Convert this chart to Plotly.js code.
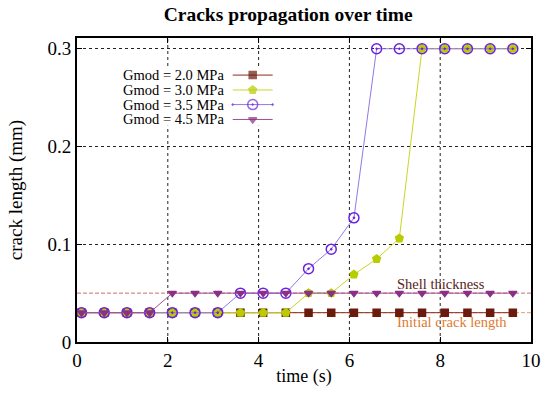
<!DOCTYPE html>
<html>
<head>
<meta charset="utf-8">
<script src="https://cdn.plot.ly/plotly-3.0.1.min.js"></script>
<style>html,body{margin:0;padding:0;background:#fff;}#chart{width:550px;height:393px;}</style>
</head>
<body>
<div id="chart"></div>
<script>
// ---- data ----
var time = [0.1, 0.6, 1.1, 1.6, 2.1, 2.6, 3.1, 3.6, 4.1, 4.6, 5.1, 5.6, 6.1, 6.6, 7.1, 7.6, 8.1, 8.6, 9.1, 9.6];
var gmod20 = [0.03, 0.03, 0.03, 0.03, 0.03, 0.03, 0.03, 0.03, 0.03, 0.03, 0.03, 0.03, 0.03, 0.03, 0.03, 0.03, 0.03, 0.03, 0.03, 0.03];
var gmod30 = [0.03, 0.03, 0.03, 0.03, 0.03, 0.03, 0.03, 0.03, 0.03, 0.03, 0.05, 0.05, 0.069, 0.085, 0.106, 0.3, 0.3, 0.3, 0.3, 0.3];
var gmod35 = [0.03, 0.03, 0.03, 0.03, 0.03, 0.03, 0.03, 0.05, 0.05, 0.05, 0.075, 0.095, 0.127, 0.3, 0.3, 0.3, 0.3, 0.3, 0.3, 0.3];
var gmod45 = [0.03, 0.03, 0.03, 0.03, 0.05, 0.05, 0.05, 0.05, 0.05, 0.05, 0.05, 0.05, 0.05, 0.05, 0.05, 0.05, 0.05, 0.05, 0.05, 0.05];
var seriesNames = ["Gmod = 2.0 MPa", "Gmod = 3.0 MPa", "Gmod = 3.5 MPa", "Gmod = 4.5 MPa"];
var shellThickness = 0.05;
var initialCrack = 0.03;
var refLabels = ["Shell thickness", "Initial crack length"];
var xTicks = [0, 2, 4, 6, 8, 10];
var yTicks = [0, 0.1, 0.2, 0.3];
var yTickText = ["0", "0.1", "0.2", "0.3"];

// ---- styles ----
var styles = [
  {line: '#8b2c1c', marker: '#6b1a0e', symbol: 'square', size: 7},
  {line: '#c8d820', marker: '#b8cc00', symbol: 'pentagon', size: 8},
  {line: '#9478e4', marker: '#6a22e0', symbol: 'circle-open-dot', size: 10},
  {line: '#a04d9a', marker: '#8b2f87', symbol: 'triangle-down', size: 7}
];
var allY = [gmod20, gmod30, gmod35, gmod45];
var FONT = 'Liberation Serif, Times New Roman, serif';

var traces = [];
allY.forEach(function (ys, i) {
  var s = styles[i];
  traces.push({
    x: time, y: ys, type: 'scatter', mode: 'lines+markers', name: seriesNames[i],
    showlegend: false,
    line: {color: s.line, width: 1},
    marker: {symbol: s.symbol, size: s.size, color: s.marker, line: {color: s.marker, width: 1.5}}
  });
});

// legend (gnuplot style: text, then sample) on an overlay axis in [0,1]
var legX0 = 0.343, legX1 = 0.431, legXText = 0.325;
var legY = [0.878, 0.829, 0.781, 0.732];
var annotations = [];
seriesNames.forEach(function (nm, i) {
  var s = styles[i];
  var xm = (legX0 + legX1) / 2;
  traces.push({
    x: [legX0, xm, legX1], y: [legY[i], legY[i], legY[i]], xaxis: 'x2', yaxis: 'y2',
    type: 'scatter', mode: 'lines+markers', showlegend: false, hoverinfo: 'skip',
    line: {color: s.line, width: 1},
    marker: {symbol: s.symbol, size: [0, s.size, 0], color: s.marker, line: {color: s.marker, width: 1.5}}
  });
  annotations.push({
    xref: 'paper', yref: 'paper', x: legXText, y: legY[i], xanchor: 'right', yanchor: 'middle',
    height: 14, borderpad: 0,
    text: nm, showarrow: false, font: {family: FONT, size: 14.5, color: '#000'}
  });
});

annotations.push({
  xref: 'x', yref: 'y', x: 7.0, y: shellThickness, xanchor: 'left', yanchor: 'bottom', yshift: -1,
  text: refLabels[0], showarrow: false, font: {family: FONT, size: 14.5, color: '#5a1c18'}
});
annotations.push({
  xref: 'x', yref: 'y', x: 7.0, y: initialCrack, xanchor: 'left', yanchor: 'top', yshift: 1,
  text: refLabels[1], showarrow: false, font: {family: FONT, size: 14.5, color: '#e07a30'}
});

// vertical grid lines drawn as shapes so the opaque key box can hide them
var shapes = [];
xTicks.slice(1, -1).forEach(function (xv) {
  shapes.push({type: 'line', xref: 'x', x0: xv, x1: xv, yref: 'paper', y0: 0, y1: 1,
    line: {color: '#222', width: 1, dash: '3px,3px'}, layer: 'below'});
});
shapes.push({type: 'rect', xref: 'paper', yref: 'paper', x0: 0.094, x1: 0.442, y0: 0.711, y1: 0.905,
  fillcolor: '#fff', line: {width: 0}, layer: 'below'});
shapes.push({type: 'line', xref: 'paper', x0: 0, x1: 1, yref: 'y', y0: shellThickness, y1: shellThickness,
  line: {color: '#c07070', width: 1, dash: '4px,2px'}, layer: 'below'});
shapes.push({type: 'line', xref: 'paper', x0: 0, x1: 1, yref: 'y', y0: initialCrack, y1: initialCrack,
  line: {color: '#e0a070', width: 1, dash: '4px,2px'}, layer: 'below'});

var axisCommon = {
  showline: true, linecolor: '#000', linewidth: 2, mirror: 'ticks',
  ticks: 'inside', ticklen: 5, tickcolor: '#000', tickwidth: 1,
  gridcolor: '#222', gridwidth: 1, griddash: '3px,3px',
  zeroline: false, tickfont: {family: FONT, size: 19, color: '#000'}
};

var layout = {
  width: 550, height: 393,
  margin: {l: 77, r: 19, t: 38, b: 51},
  paper_bgcolor: '#fff', plot_bgcolor: '#fff',
  title: {text: '<b>Cracks propagation over time</b>', font: {family: FONT, size: 19.5, color: '#000'},
          x: 0.524, xanchor: 'center', y: 0.965, yanchor: 'middle'},
  xaxis: Object.assign({}, axisCommon, {
    range: [0, 10], tickvals: xTicks, ticktext: xTicks.map(String), showgrid: false,
    title: {text: 'time (s)', font: {family: FONT, size: 18, color: '#000'}, standoff: 0}
  }),
  yaxis: Object.assign({}, axisCommon, {
    range: [0, 0.311], tickvals: yTicks, ticktext: yTickText, ticklabelstandoff: 0, showgrid: true,
    title: {text: 'crack length (mm)', font: {family: FONT, size: 19, color: '#000'}, standoff: 20}
  }),
  xaxis2: {overlaying: 'x', range: [0, 1], visible: false, fixedrange: true},
  yaxis2: {overlaying: 'y', range: [0, 1], visible: false, fixedrange: true},
  showlegend: false,
  annotations: annotations,
  shapes: shapes
};

Plotly.newPlot('chart', traces, layout, {displayModeBar: false, staticPlot: true});
</script>
</body>
</html>
